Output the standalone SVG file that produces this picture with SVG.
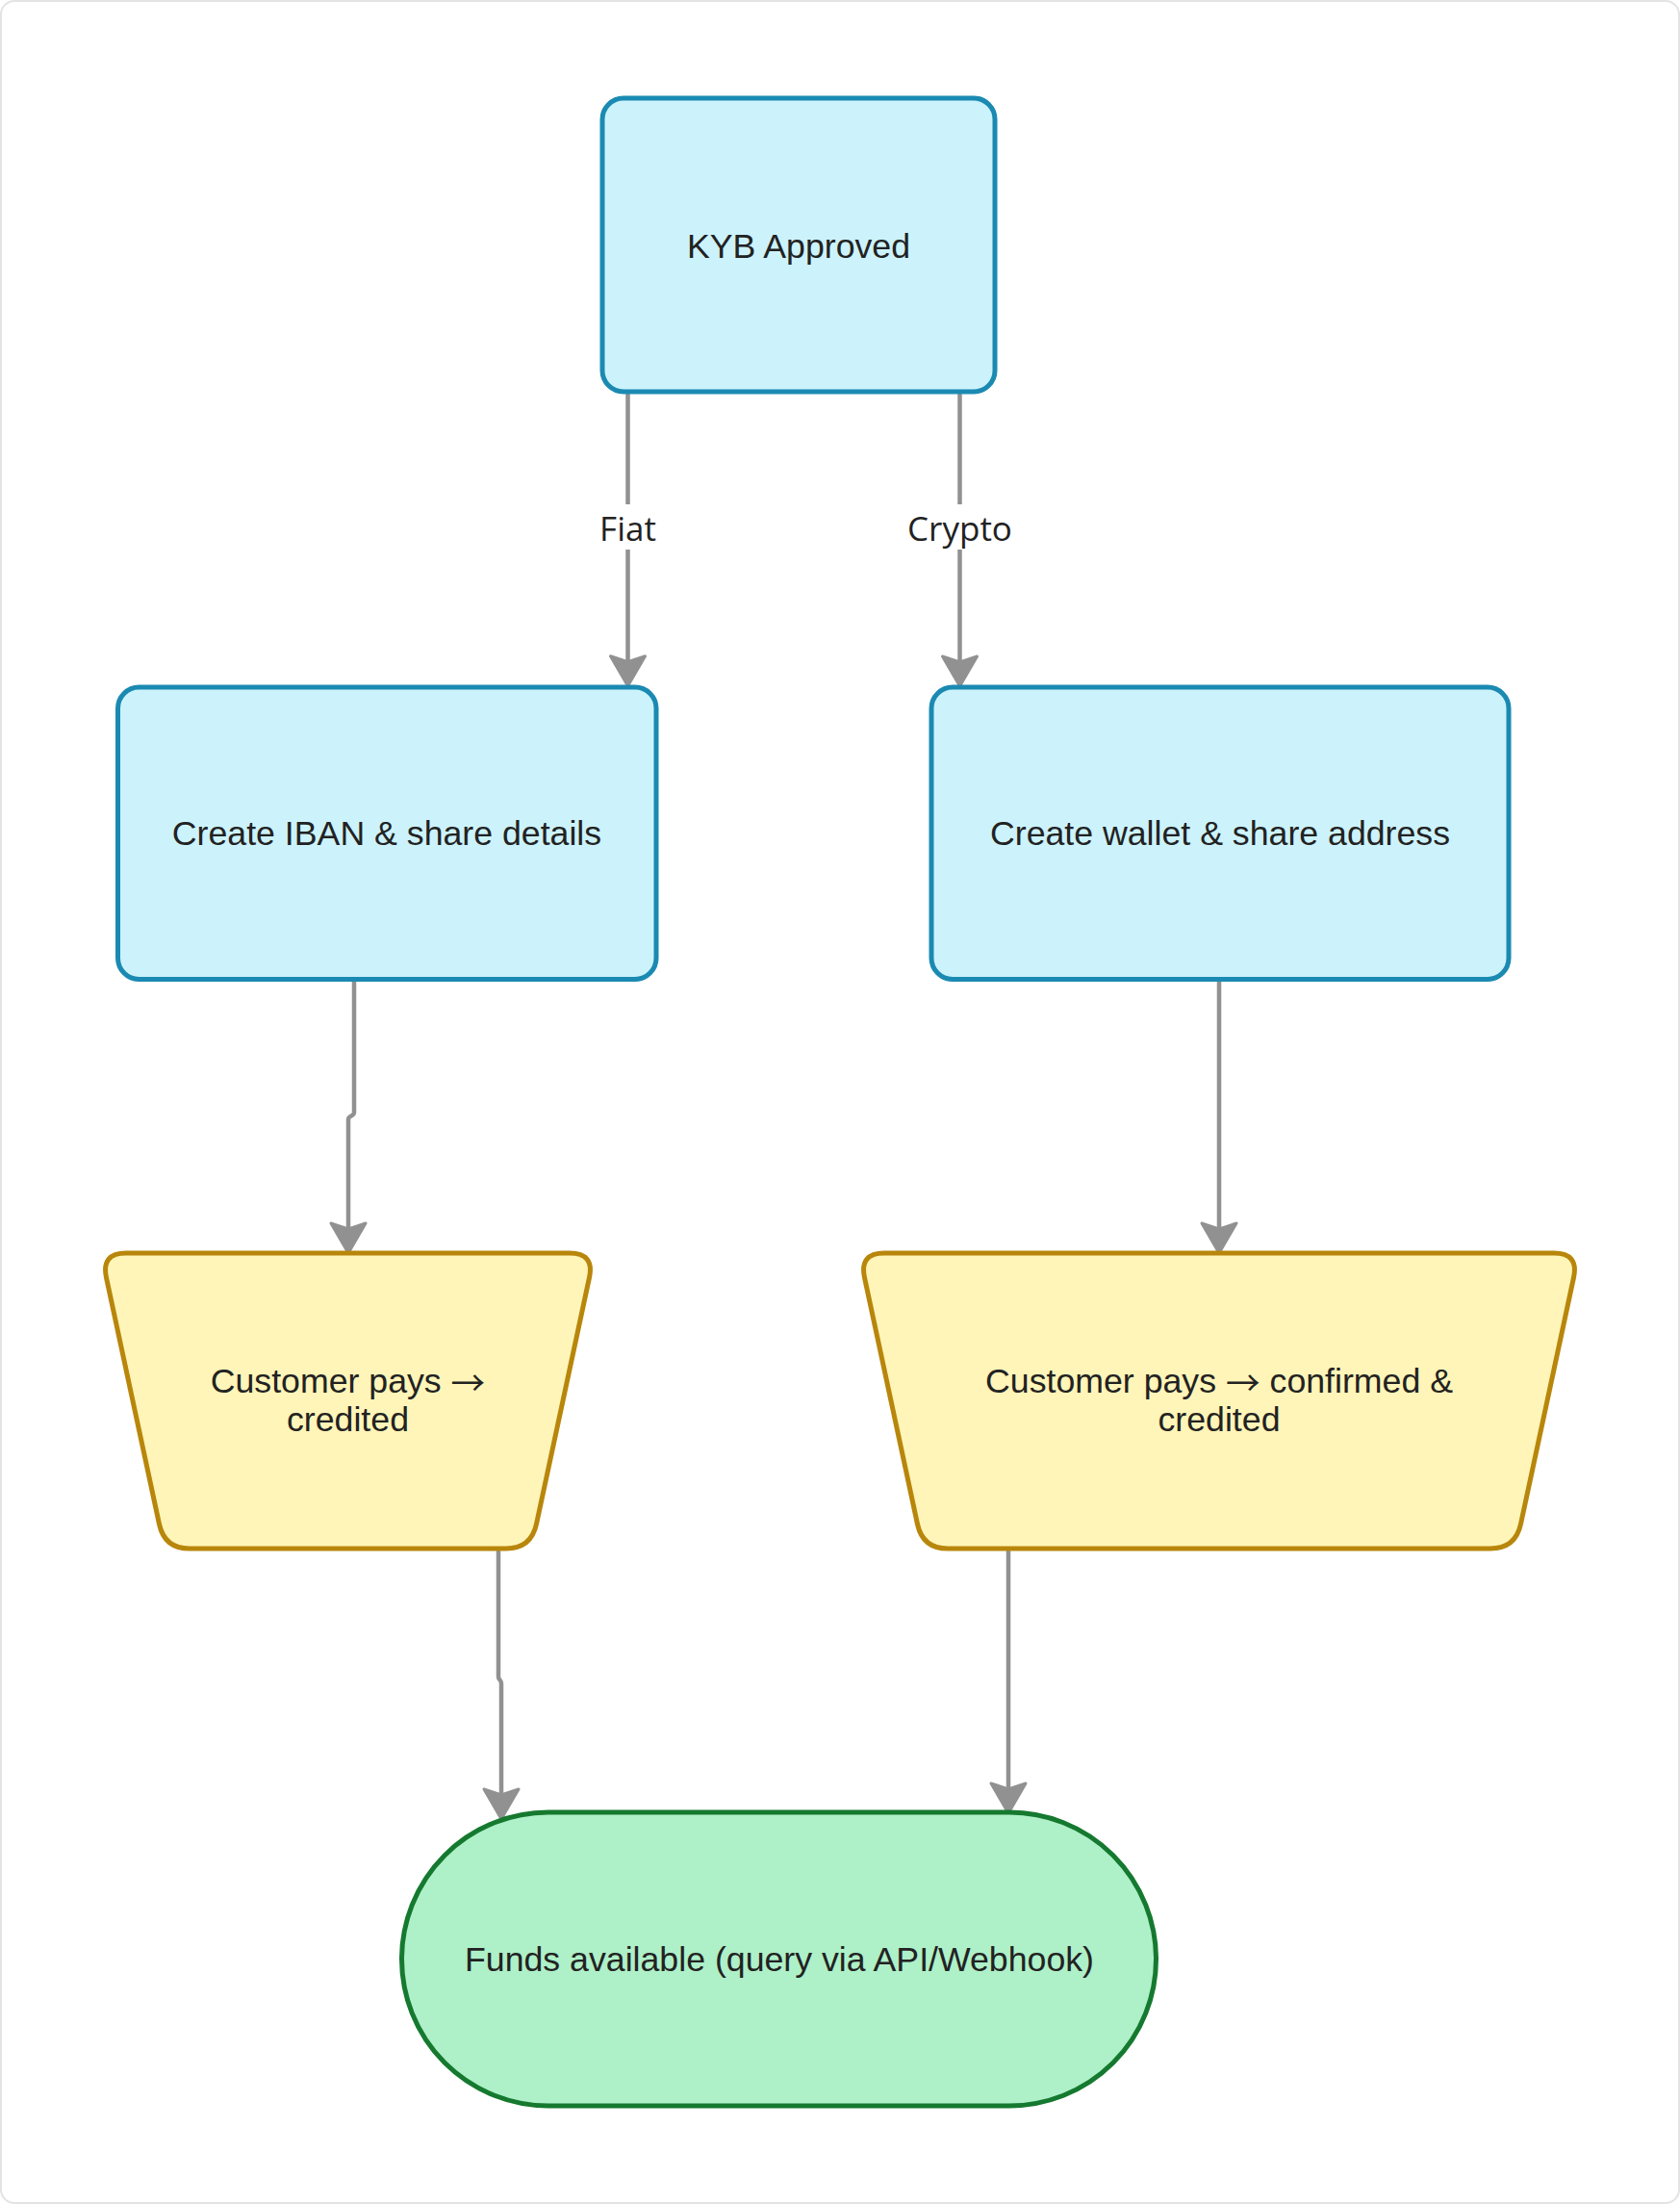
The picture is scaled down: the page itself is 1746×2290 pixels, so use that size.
<svg xmlns="http://www.w3.org/2000/svg" width="1746" height="2290" viewBox="0 0 1746 2290">
  <style>
    .blue { fill: #ccf3fc; stroke: #1b8ab2; stroke-width: 5; }
    .yellow { fill: #fff5b8; stroke: #b8860b; stroke-width: 5; }
    .green { fill: #aef0c8; stroke: #15792f; stroke-width: 5; }
    .lbl { font-family: "Liberation Sans", Arial, sans-serif; font-size: 35.7px; fill: #222222; text-anchor: middle; }
    .arr { font-family: "Noto Sans CJK SC", "DejaVu Sans", sans-serif; }
    .elbl { font-family: "Open Sans", "Noto Sans", sans-serif; font-size: 35px; fill: #222222; text-anchor: middle; }
    .edge { fill: none; stroke: #919191; stroke-width: 4.5; }
    .lblbg { fill: #ffffff; }
  </style>
  <defs>
    <marker id="arrow" markerUnits="userSpaceOnUse" viewBox="-36 -22 38 44" markerWidth="38" markerHeight="44" refX="-20" refY="0" orient="auto" overflow="visible">
      <path d="M0,0 L-31,-18 L-25,0 L-31,18 Z" fill="#919191" stroke="#919191" stroke-width="3" stroke-linejoin="round"/>
    </marker>
  </defs>

  <rect x="1" y="1" width="1744" height="2288" rx="14" ry="14" fill="#ffffff" stroke="#e3e3e3" stroke-width="2"/>

  <g id="connectors">
    <path class="edge" d="M652.5,407 L652.5,692.7" marker-end="url(#arrow)"/>
    <path class="edge" d="M997.5,407 L997.5,693" marker-end="url(#arrow)"/>
    <path class="edge" d="M368,1017 L368,1156 C368,1160 362,1159 362,1163 L362,1282" marker-end="url(#arrow)"/>
    <path class="edge" d="M1267,1017 L1267,1282" marker-end="url(#arrow)"/>
    <path class="edge" d="M518,1609 L518,1742 C518,1746 521,1745 521,1749 L521,1870" marker-end="url(#arrow)"/>
    <path class="edge" d="M1048,1609 L1048,1864" marker-end="url(#arrow)"/>
    <g id="edge-label-fiat">
      <rect class="lblbg" x="622" y="524" width="61" height="47"/>
      <text class="elbl" x="652.5" y="561.5">Fiat</text>
    </g>
    <g id="edge-label-crypto">
      <rect class="lblbg" x="942" y="524" width="111" height="47"/>
      <text class="elbl" x="997.5" y="561.5">Crypto</text>
    </g>
  </g>

  <g id="node-kyb">
    <rect class="blue" x="626" y="102" width="408" height="305" rx="22" ry="22"/>
    <text class="lbl" x="830" y="267.5">KYB Approved</text>
  </g>

  <g id="node-iban">
    <rect class="blue" x="122.5" y="714" width="559.5" height="303.5" rx="22" ry="22"/>
    <text class="lbl" x="402" y="878">Create IBAN &amp; share details</text>
  </g>

  <g id="node-wallet">
    <rect class="blue" x="968" y="714" width="600" height="303.5" rx="22" ry="22"/>
    <text class="lbl" x="1268" y="878">Create wallet &amp; share address</text>
  </g>

  <g id="node-fiat-pay">
    <path class="yellow" d="M131,1302 L592,1302 Q618,1302 612.5,1327.4 L557.5,1583.6 Q552,1609 526,1609 L197,1609 Q171,1609 165.5,1583.6 L110.5,1327.4 Q105,1302 131,1302 Z"/>
    <text class="lbl" x="361.5" y="1447">Customer pays <tspan class="arr" dy="3">→</tspan></text>
    <text class="lbl" x="361.5" y="1487">credited</text>
  </g>

  <g id="node-crypto-pay">
    <path class="yellow" d="M919,1302 L1615,1302 Q1641,1302 1635.5,1327.4 L1580.5,1583.6 Q1575,1609 1549,1609 L985,1609 Q959,1609 953.5,1583.6 L898.5,1327.4 Q893,1302 919,1302 Z"/>
    <text class="lbl" x="1267" y="1447">Customer pays <tspan class="arr" dy="3">→</tspan><tspan dy="-3"> confirmed &amp;</tspan></text>
    <text class="lbl" x="1267" y="1487">credited</text>
  </g>

  <g id="node-funds">
    <rect class="green" x="417.5" y="1883" width="784" height="305" rx="152.5" ry="152.5"/>
    <text class="lbl" x="810" y="2048">Funds available (query via API/Webhook)</text>
  </g>
</svg>
